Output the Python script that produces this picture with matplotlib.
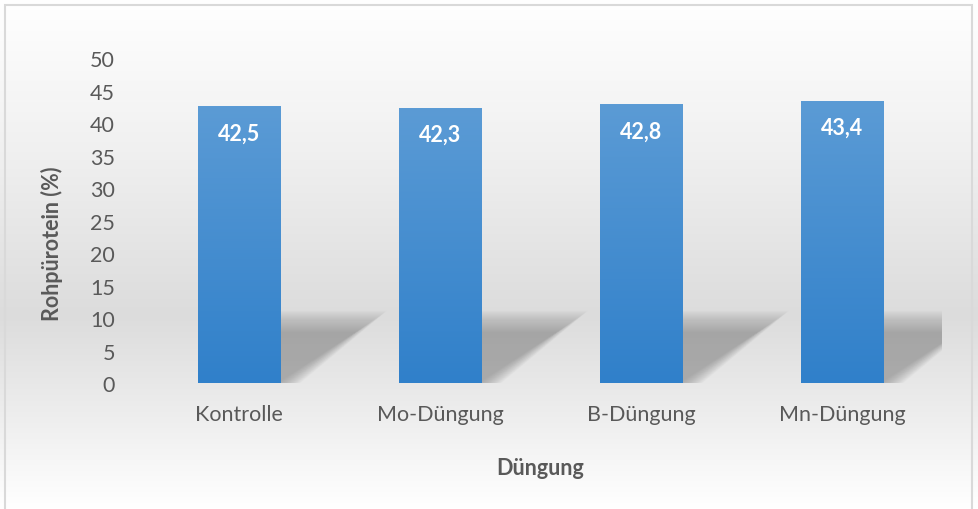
import numpy as np
import matplotlib.pyplot as plt
from matplotlib.patches import Polygon, Rectangle
from matplotlib.colors import LinearSegmentedColormap

# data
categories = ['Kontrolle', 'Mo-Düngung', 'B-Düngung', 'Mn-Düngung']
values = [42.5, 42.3, 42.8, 43.4]
labels = ['42,5', '42,3', '42,8', '43,4']
yticks = [0, 5, 10, 15, 20, 25, 30, 35, 40, 45, 50]

plt.rcParams['font.family'] = ['Lato', 'DejaVu Sans']
txt = '#595959'
fs = 15.5

fig = plt.figure(figsize=(9.79, 5.10), dpi=100)

# background gradient for the whole chart area
bg = fig.add_axes([0, 0, 1, 1], zorder=-10)
bg_cmap = LinearSegmentedColormap.from_list(
    'bg', [(0, '#ffffff'), (0.3, '#f0f0f0'), (0.62, '#dcdcdc'), (0.8, '#ececec'), (1, '#ffffff')])
grad = np.linspace(0, 1, 256).reshape(-1, 1)
bg.imshow(grad, aspect='auto', cmap=bg_cmap, extent=[0, 1, 0, 1], origin='upper')
bg.add_patch(Rectangle((5 / 979, -0.01), 967 / 979, 1 - 6 / 510 + 0.01, fill=False,
                       edgecolor='#d9d9d9', lw=1.5))
bg.set_xlim(0, 1)
bg.set_ylim(0, 1)
bg.axis('off')

ax = fig.add_axes([0.1415, 0.247, 0.8212, 0.637])
ax.set_facecolor('none')
x = np.arange(len(categories))
w = 0.41

bar_cmap = LinearSegmentedColormap.from_list('bar', ['#3080ca', '#5b9bd5'])
for xi, v, lab in zip(x, values, labels):
    # soft shadow to the right of each bar
    x0 = xi + w / 2
    n = 22
    for k in range(n):
        d = (k - n / 2) / n  # -0.5 .. 0.5
        h = 9.4 - d * 3.4
        xr = x0 + 0.45 - d * 0.16
        xb = x0 + 0.04 - d * 0.12
        shadow = Polygon([(x0 - 0.02, 0), (x0 - 0.02, h), (xr, h), (xb, 0)],
                         closed=True, facecolor='#8a8a8a', edgecolor='none',
                         alpha=0.038, zorder=1)
        ax.add_patch(shadow)
    # gradient bar
    ax.imshow(np.linspace(0, 1, 100).reshape(-1, 1), cmap=bar_cmap, origin='lower',
              extent=[xi - w / 2, xi + w / 2, 0, v], aspect='auto', zorder=2)
    ax.text(xi, v - 4.0, lab, ha='center', va='center', color='white',
            fontsize=fs, fontweight='bold', zorder=3)

ax.set_xlim(-0.5, len(categories) - 0.5)
ax.set_ylim(0, 50)
ax.set_xticks(x)
ax.set_xticklabels(categories, fontsize=fs, color=txt)
ax.set_yticks(yticks)
ax.set_yticklabels([str(t) for t in yticks], fontsize=fs, color=txt)
ax.tick_params(length=0)
ax.tick_params(axis='x', pad=15)
ax.tick_params(axis='y', pad=17)
for sp in ax.spines.values():
    sp.set_visible(False)

ax.set_xlabel('Düngung', fontsize=fs, fontweight='bold', color=txt, labelpad=24)
ax.set_ylabel('Rohpürotein (%)', fontsize=fs, fontweight='bold', color=txt)
ax.yaxis.set_label_coords(-0.094, 0.432)

fig.savefig('out.png', dpi=100)
